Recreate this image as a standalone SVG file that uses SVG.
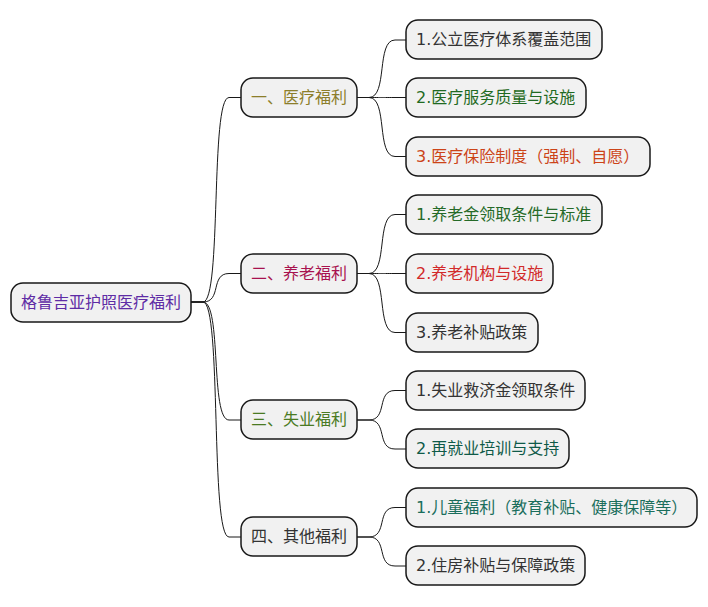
<svg xmlns="http://www.w3.org/2000/svg" width="708" height="607" viewBox="0 0 708 607">
<style>
.b{fill:#F1F1F1;stroke:#181818;stroke-width:1.5}
text{font-family:"DejaVu Sans","Noto Sans CJK SC",sans-serif;font-size:16px}
.c path{fill:none;stroke:#181818;stroke-width:1}
</style>
<rect width="708" height="607" fill="#FFFFFF"/>
<g class="c" id="connectors">
<path d="M191,302 L203,302 C222,302 210,97.5 229,97.5 L241,97.5"/>
<path d="M191,302 L203,302 C222,302 210,273.5 229,273.5 L241,273.5"/>
<path d="M191,302 L203,302 C222,302 210,420 229,420 L241,420"/>
<path d="M191,302 L203,302 C222,302 210,537 229,537 L241,537"/>
<path d="M357,97.5 L369,97.5 C388,97.5 376,40 395,40 L406,40"/>
<path d="M357,97.5 L369,97.5 C388,97.5 376,97.5 395,97.5 L406,97.5"/>
<path d="M357,97.5 L369,97.5 C388,97.5 376,156.5 395,156.5 L406,156.5"/>
<path d="M357,273.5 L369,273.5 C388,273.5 376,214.5 395,214.5 L406,214.5"/>
<path d="M357,273.5 L369,273.5 C388,273.5 376,273.5 395,273.5 L406,273.5"/>
<path d="M357,273.5 L369,273.5 C388,273.5 376,332.5 395,332.5 L406,332.5"/>
<path d="M357,420 L369,420 C388,420 376,390.5 395,390.5 L406,390.5"/>
<path d="M357,420 L369,420 C388,420 376,449 395,449 L406,449"/>
<path d="M357,537 L369,537 C388,537 376,507.5 395,507.5 L406,507.5"/>
<path d="M357,537 L369,537 C388,537 376,566 395,566 L406,566"/>
</g>
<g id="root"><rect class="b" x="11" y="283" width="180" height="39" rx="12"/><text x="21" y="308" fill="#5E2CA5">格鲁吉亚护照医疗福利</text></g>
<g id="b1"><rect class="b" x="241" y="78" width="116" height="39" rx="12"/><text x="251" y="103" fill="#8C7E2A">一、医疗福利</text></g>
<g id="b2"><rect class="b" x="241" y="254" width="116" height="39" rx="12"/><text x="251" y="279" fill="#A8124E">二、养老福利</text></g>
<g id="b3"><rect class="b" x="241" y="400" width="116" height="39" rx="12"/><text x="251" y="425" fill="#4A7A22">三、失业福利</text></g>
<g id="b4"><rect class="b" x="241" y="517" width="116" height="39" rx="12"/><text x="251" y="542" fill="#333333">四、其他福利</text></g>
<g id="l1"><rect class="b" x="406" y="20" width="196" height="39" rx="12"/><text x="416" y="45" fill="#333333">1.公立医疗体系覆盖范围</text></g>
<g id="l2"><rect class="b" x="406" y="78" width="180" height="39" rx="12"/><text x="416" y="103" fill="#1F6A22">2.医疗服务质量与设施</text></g>
<g id="l3"><rect class="b" x="406" y="137" width="244" height="39" rx="12"/><text x="416" y="162" fill="#CC4418">3.医疗保险制度（强制、自愿）</text></g>
<g id="l4"><rect class="b" x="406" y="195" width="196" height="39" rx="12"/><text x="416" y="220" fill="#256A28">1.养老金领取条件与标准</text></g>
<g id="l5"><rect class="b" x="406" y="254" width="147" height="39" rx="12"/><text x="416" y="279" fill="#D22A2A">2.养老机构与设施</text></g>
<g id="l6"><rect class="b" x="406" y="313" width="132" height="39" rx="12"/><text x="416" y="338" fill="#333333">3.养老补贴政策</text></g>
<g id="l7"><rect class="b" x="406" y="371" width="179" height="39" rx="12"/><text x="416" y="396" fill="#333333">1.失业救济金领取条件</text></g>
<g id="l8"><rect class="b" x="406" y="429" width="163" height="39" rx="12"/><text x="416" y="454" fill="#0F5A48">2.再就业培训与支持</text></g>
<g id="l9"><rect class="b" x="406" y="488" width="291" height="39" rx="12"/><text x="416" y="513" fill="#1A6E5C">1.儿童福利（教育补贴、健康保障等）</text></g>
<g id="l10"><rect class="b" x="406" y="546" width="179" height="39" rx="12"/><text x="416" y="571" fill="#333333">2.住房补贴与保障政策</text></g>
</svg>
